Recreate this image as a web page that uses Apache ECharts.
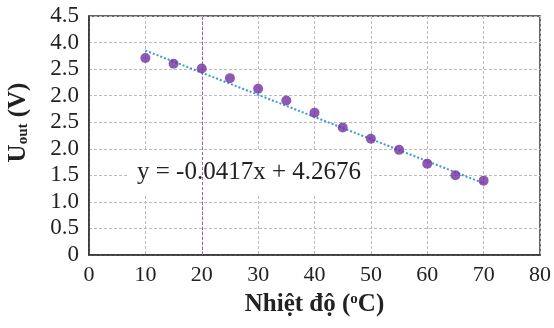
<!DOCTYPE html>
<html>
<head>
<meta charset="utf-8">
<script src="https://cdn.jsdelivr.net/npm/echarts@6/dist/echarts.min.js"></script>
<style>
  html, body { margin: 0; padding: 0; background: #fff; }
  #chart { width: 554px; height: 328px; }
</style>
</head>
<body>
<div id="chart"></div>
<script>
// measured points
const temps = [10, 15, 20, 25, 30, 35, 40, 45, 50, 55, 60, 65, 70];
const uout = [3.71, 3.6, 3.51, 3.33, 3.13, 2.91, 2.68, 2.4, 2.19, 1.98, 1.72, 1.5, 1.4];
// trend line end points (y = -0.0417x + 4.2676)
const trendX = [10, 70];
const trendY = [3.85, 1.35];
// tick labels as printed on the original (y axis)
const yTickLabels = ["0", "0.5", "1.0", "1.5", "2.0", "2.5", "2.0", "2.5", "4.0", "4.5"];
const markX = 20;
const eqText = "y = -0.0417x + 4.2676";

const serif = "'Liberation Serif', 'DejaVu Serif', serif";
const chart = echarts.init(document.getElementById("chart"));
chart.setOption({
  animation: false,
  textStyle: { fontFamily: serif },
  grid: {
    left: 89, right: 14, top: 16, bottom: 73,
    outerBoundsMode: "none",
    containLabel: false,
    show: true, borderColor: "#333", borderWidth: 1.5,
  },
  xAxis: {
    type: "value", min: 0, max: 80, interval: 10,
    axisLine: { lineStyle: { color: "#333", width: 1.5 } },
    axisTick: { show: false },
    axisLabel: { fontSize: 22, color: "#222", fontFamily: serif, margin: 9 },
    splitLine: { lineStyle: { color: "#bbb", type: [3, 2], width: 1 } },
    name: "{b|Nhiệt độ (}{s|o}{b|C)}",
    nameLocation: "middle",
    nameGap: 37,
    nameTextStyle: {
      rich: {
        b: { fontSize: 25, fontWeight: "bold", fontFamily: serif, color: "#222" },
        s: { fontSize: 15, fontWeight: "bold", fontFamily: serif, color: "#222", padding: [0, 0, 10, 0] },
      },
    },
  },
  yAxis: {
    type: "value", min: 0, max: 4.5, interval: 0.5,
    axisLine: { show: true, lineStyle: { color: "#333", width: 1.5 } },
    axisTick: { show: false },
    axisLabel: {
      fontSize: 23, color: "#222", fontFamily: serif, margin: 10,
      formatter: (v) => yTickLabels[Math.round(v / 0.5)],
    },
    splitLine: { lineStyle: { color: "#bbb", type: [3, 2], width: 1 } },
    name: "{b|U}{s|out}{b| (V)}",
    nameLocation: "middle",
    nameRotate: 90,
    nameGap: 58,
    nameTextStyle: {
      padding: [0, 0, 0, 26],
      rich: {
        b: { fontSize: 25, fontWeight: "bold", fontFamily: serif, color: "#222" },
        s: { fontSize: 15, fontWeight: "bold", fontFamily: serif, color: "#222", padding: [9, 0, 0, 0] },
      },
    },
  },
  graphic: [{
    type: "text",
    left: 128, top: 150, z: 5,
    style: {
      text: eqText,
      font: "25px " + serif,
      fill: "#222",
      backgroundColor: "#fff",
      padding: [10, 10, 10, 9],
    },
  }],
  series: [
    {
      type: "line",
      data: trendX.map((x, i) => [x, trendY[i]]),
      symbol: "none",
      lineStyle: { color: "#3a9ad9", type: [2, 2], width: 2 },
      z: 2,
      markLine: {
        silent: true,
        symbol: "none",
        label: { show: false },
        lineStyle: { color: "#9b59d0", type: [3, 2], width: 1 },
        data: [{ xAxis: markX }],
      },
    },
    {
      type: "scatter",
      data: temps.map((x, i) => [x, uout[i]]),
      symbolSize: 10,
      itemStyle: { color: "#7030a0" },
      z: 6,
    },
  ],
});
</script>
</body>
</html>
